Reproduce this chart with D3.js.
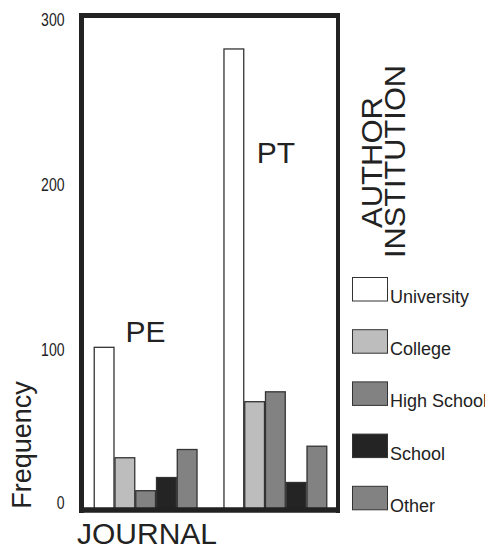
<!DOCTYPE html>
<html>
<head>
<meta charset="utf-8">
<script src="https://cdn.jsdelivr.net/npm/d3@7"></script>
<style>
  html, body { margin: 0; padding: 0; background: #fff; }
  svg { display: block; font-family: "Liberation Sans", Arial, Helvetica, sans-serif; }
</style>
</head>
<body>
<svg id="chart" width="485" height="548"></svg>
<script>
// ---- data ----
const journals = ["PE", "PT"];
const institutions = ["University", "College", "High School", "School", "Other"];
const peValues = [99, 32, 12, 20, 37];
const ptValues = [280, 66, 72, 17, 39];
const yTicks = [0, 100, 200, 300];
const fillColors = ["#ffffff", "#bdbdbd", "#828282", "#242424", "#828282"];

const seriesByJournal = { PE: peValues, PT: ptValues };

const svg = d3.select("#chart");

// ---- scales ----
const plot = { left: 84, right: 337, top: 15.5, bottom: 510 };
const x0 = d3.scaleBand().domain(journals).range([plot.left, plot.right])
  .paddingInner(0.2).paddingOuter(0.075);
const x1 = d3.scaleBand().domain(institutions).range([0, x0.bandwidth()]).padding(0);
const y = d3.scaleLinear().domain([0, 300]).range([plot.bottom, plot.top]);
const color = d3.scaleOrdinal().domain(institutions).range(fillColors);

// ---- bars ----
const groups = svg.append("g").selectAll("g")
  .data(journals).join("g")
  .attr("transform", d => `translate(${x0(d)},0)`);

groups.selectAll("rect")
  .data(j => institutions.map((inst, i) => ({ inst, value: seriesByJournal[j][i] })))
  .join("rect")
  .attr("x", d => x1(d.inst) + 0.5)
  .attr("y", d => y(d.value) + 0.5)
  .attr("width", x1.bandwidth() - 1)
  .attr("height", d => y(0) - y(d.value))
  .attr("fill", d => color(d.inst))
  .attr("stroke", "#333")
  .attr("stroke-width", 1.3);

// journal labels
svg.append("text").attr("x", x0("PE") + x0.bandwidth() / 2).attr("y", 341.5)
  .attr("text-anchor", "middle").attr("font-size", 30).attr("fill", "#222").text("PE");
svg.append("text").attr("x", x0("PT") + x0.bandwidth() / 2 + 0.5).attr("y", 163)
  .attr("text-anchor", "middle").attr("font-size", 30).attr("fill", "#222").text("PT");

// ---- frame ----
const frame = svg.append("g").attr("stroke", "#222").attr("fill", "none");
frame.append("line").attr("x1", 81.5).attr("x2", 81.5).attr("y1", 13).attr("y2", 513).attr("stroke-width", 5);
frame.append("line").attr("x1", 79).attr("x2", 340).attr("y1", 15.5).attr("y2", 15.5).attr("stroke-width", 5);
frame.append("line").attr("x1", 79).attr("x2", 340).attr("y1", 510).attr("y2", 510).attr("stroke-width", 5.5);
frame.append("line").attr("x1", 338).attr("x2", 338).attr("y1", 13).attr("y2", 513).attr("stroke-width", 4);

// ---- y axis ----
const yAxis = d3.axisLeft(y).tickValues(yTicks).tickSize(0).tickPadding(17)
  .tickFormat(d3.format("d"));
const ay = svg.append("g").attr("transform", "translate(81.5,0)").call(yAxis);
ay.select(".domain").remove();
ay.selectAll("text")
  .attr("font-size", 18)
  .attr("fill", "#222")
  .attr("font-family", "'Liberation Sans', Arial, sans-serif")
  .attr("dy", d => d === 0 ? "-0.1em" : "0.55em")
  .each(function () {
    const w = this.getComputedTextLength();
    d3.select(this).attr("textLength", w * 0.78).attr("lengthAdjust", "spacingAndGlyphs");
  });

// axis titles
svg.append("text").attr("transform", "translate(31,445) rotate(-90)")
  .attr("text-anchor", "middle").attr("font-size", 27).attr("fill", "#222").text("Frequency");
svg.append("text").attr("x", 77).attr("y", 544)
  .attr("font-size", 30).attr("fill", "#222").text("JOURNAL");

// ---- legend ----
svg.append("text").attr("transform", "translate(382,162.5) rotate(-90)")
  .attr("text-anchor", "middle").attr("font-size", 29).attr("fill", "#222")
  .attr("textLength", 131).attr("lengthAdjust", "spacingAndGlyphs").text("AUTHOR");
svg.append("text").attr("transform", "translate(405,161.5) rotate(-90)")
  .attr("text-anchor", "middle").attr("font-size", 29).attr("fill", "#222")
  .attr("textLength", 193).attr("lengthAdjust", "spacingAndGlyphs").text("INSTITUTION");

const legend = svg.append("g").selectAll("g")
  .data(institutions).join("g")
  .attr("transform", (d, i) => `translate(352,${277 + i * 52.2})`);
legend.append("rect")
  .attr("x", 0.5).attr("y", 0.5).attr("width", 35).attr("height", 23.5)
  .attr("fill", d => color(d)).attr("stroke", "#333").attr("stroke-width", 1);
legend.append("text")
  .attr("x", 38).attr("y", 26)
  .attr("font-size", 18).attr("fill", "#222").text(d => d);
</script>
</body>
</html>
